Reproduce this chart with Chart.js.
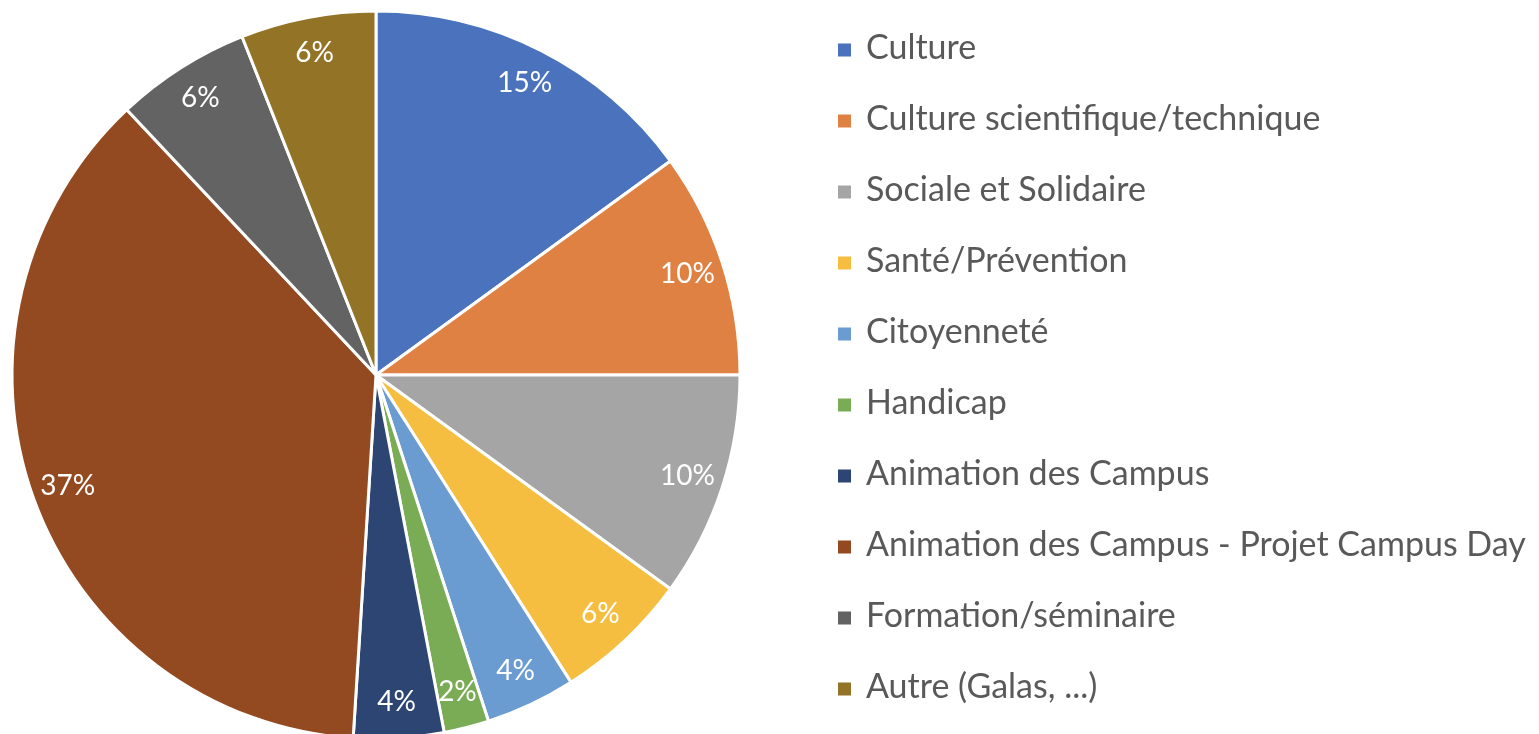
<!DOCTYPE html>
<html>
<head>
<meta charset="utf-8">
<title>Répartition des projets</title>
<script src="https://cdn.jsdelivr.net/npm/chart.js@4"></script>
<style>
  html, body { margin: 0; padding: 0; background: #fff; overflow: hidden; }
  #wrap { width: 1539px; height: 750px; }
</style>
</head>
<body>
<div id="wrap"><canvas id="pieChart" width="1539" height="750"></canvas></div>
<script>
const categories = [
  'Culture',
  'Culture scientifique/technique',
  'Sociale et Solidaire',
  'Santé/Prévention',
  'Citoyenneté',
  'Handicap',
  'Animation des Campus',
  'Animation des Campus - Projet Campus Day',
  'Formation/séminaire',
  'Autre (Galas, ...)'
];
const shares = [15, 10, 10, 6, 4, 2, 4, 37, 6, 6];
const sliceColors = [
  '#4a72bd', '#e08144', '#a5a5a5', '#f5be41', '#6a9bd1',
  '#7aab55', '#2c4573', '#944a20', '#636363', '#937427'
];

// percentage labels inside each slice
const sliceLabels = {
  id: 'sliceLabels',
  afterDatasetsDraw(chart) {
    const ctx = chart.ctx;
    const arcs = chart.getDatasetMeta(0).data;
    ctx.save();
    ctx.fillStyle = '#ffffff';
    ctx.font = '28px Lato, "Open Sans", sans-serif';
    ctx.textAlign = 'center';
    ctx.textBaseline = 'middle';
    arcs.forEach((arc, i) => {
      const p = arc.getProps(['x', 'y', 'startAngle', 'endAngle', 'outerRadius'], true);
      const mid = (p.startAngle + p.endAngle) / 2;
      const r = p.outerRadius * 0.9;
      ctx.fillText(shares[i] + '%', p.x + Math.cos(mid) * r, p.y + Math.sin(mid) * r);
    });
    ctx.restore();
  }
};

// legend list on the right
const sideLegend = {
  id: 'sideLegend',
  afterDraw(chart) {
    const ctx = chart.ctx;
    const left = 838, top = 48, step = 71, box = 13;
    ctx.save();
    ctx.font = '34px Lato, "Open Sans", sans-serif';
    ctx.textBaseline = 'middle';
    categories.forEach((name, i) => {
      const y = top + i * step;
      ctx.fillStyle = sliceColors[i];
      ctx.fillRect(left, y - box / 2 + 2, box, box);
      ctx.fillStyle = '#595959';
      ctx.fillText(name, left + 28, y);
    });
    ctx.restore();
  }
};

new Chart(document.getElementById('pieChart'), {
  type: 'pie',
  data: {
    labels: categories,
    datasets: [{
      data: shares,
      backgroundColor: sliceColors,
      borderColor: '#ffffff',
      borderWidth: 3,
      radius: 364
    }]
  },
  options: {
    responsive: false,
    animation: false,
    layout: { padding: { left: 13, right: 800, top: 12, bottom: 12 } },
    plugins: {
      legend: { display: false },
      tooltip: { enabled: false }
    }
  },
  plugins: [sliceLabels, sideLegend]
});
</script>
</body>
</html>
